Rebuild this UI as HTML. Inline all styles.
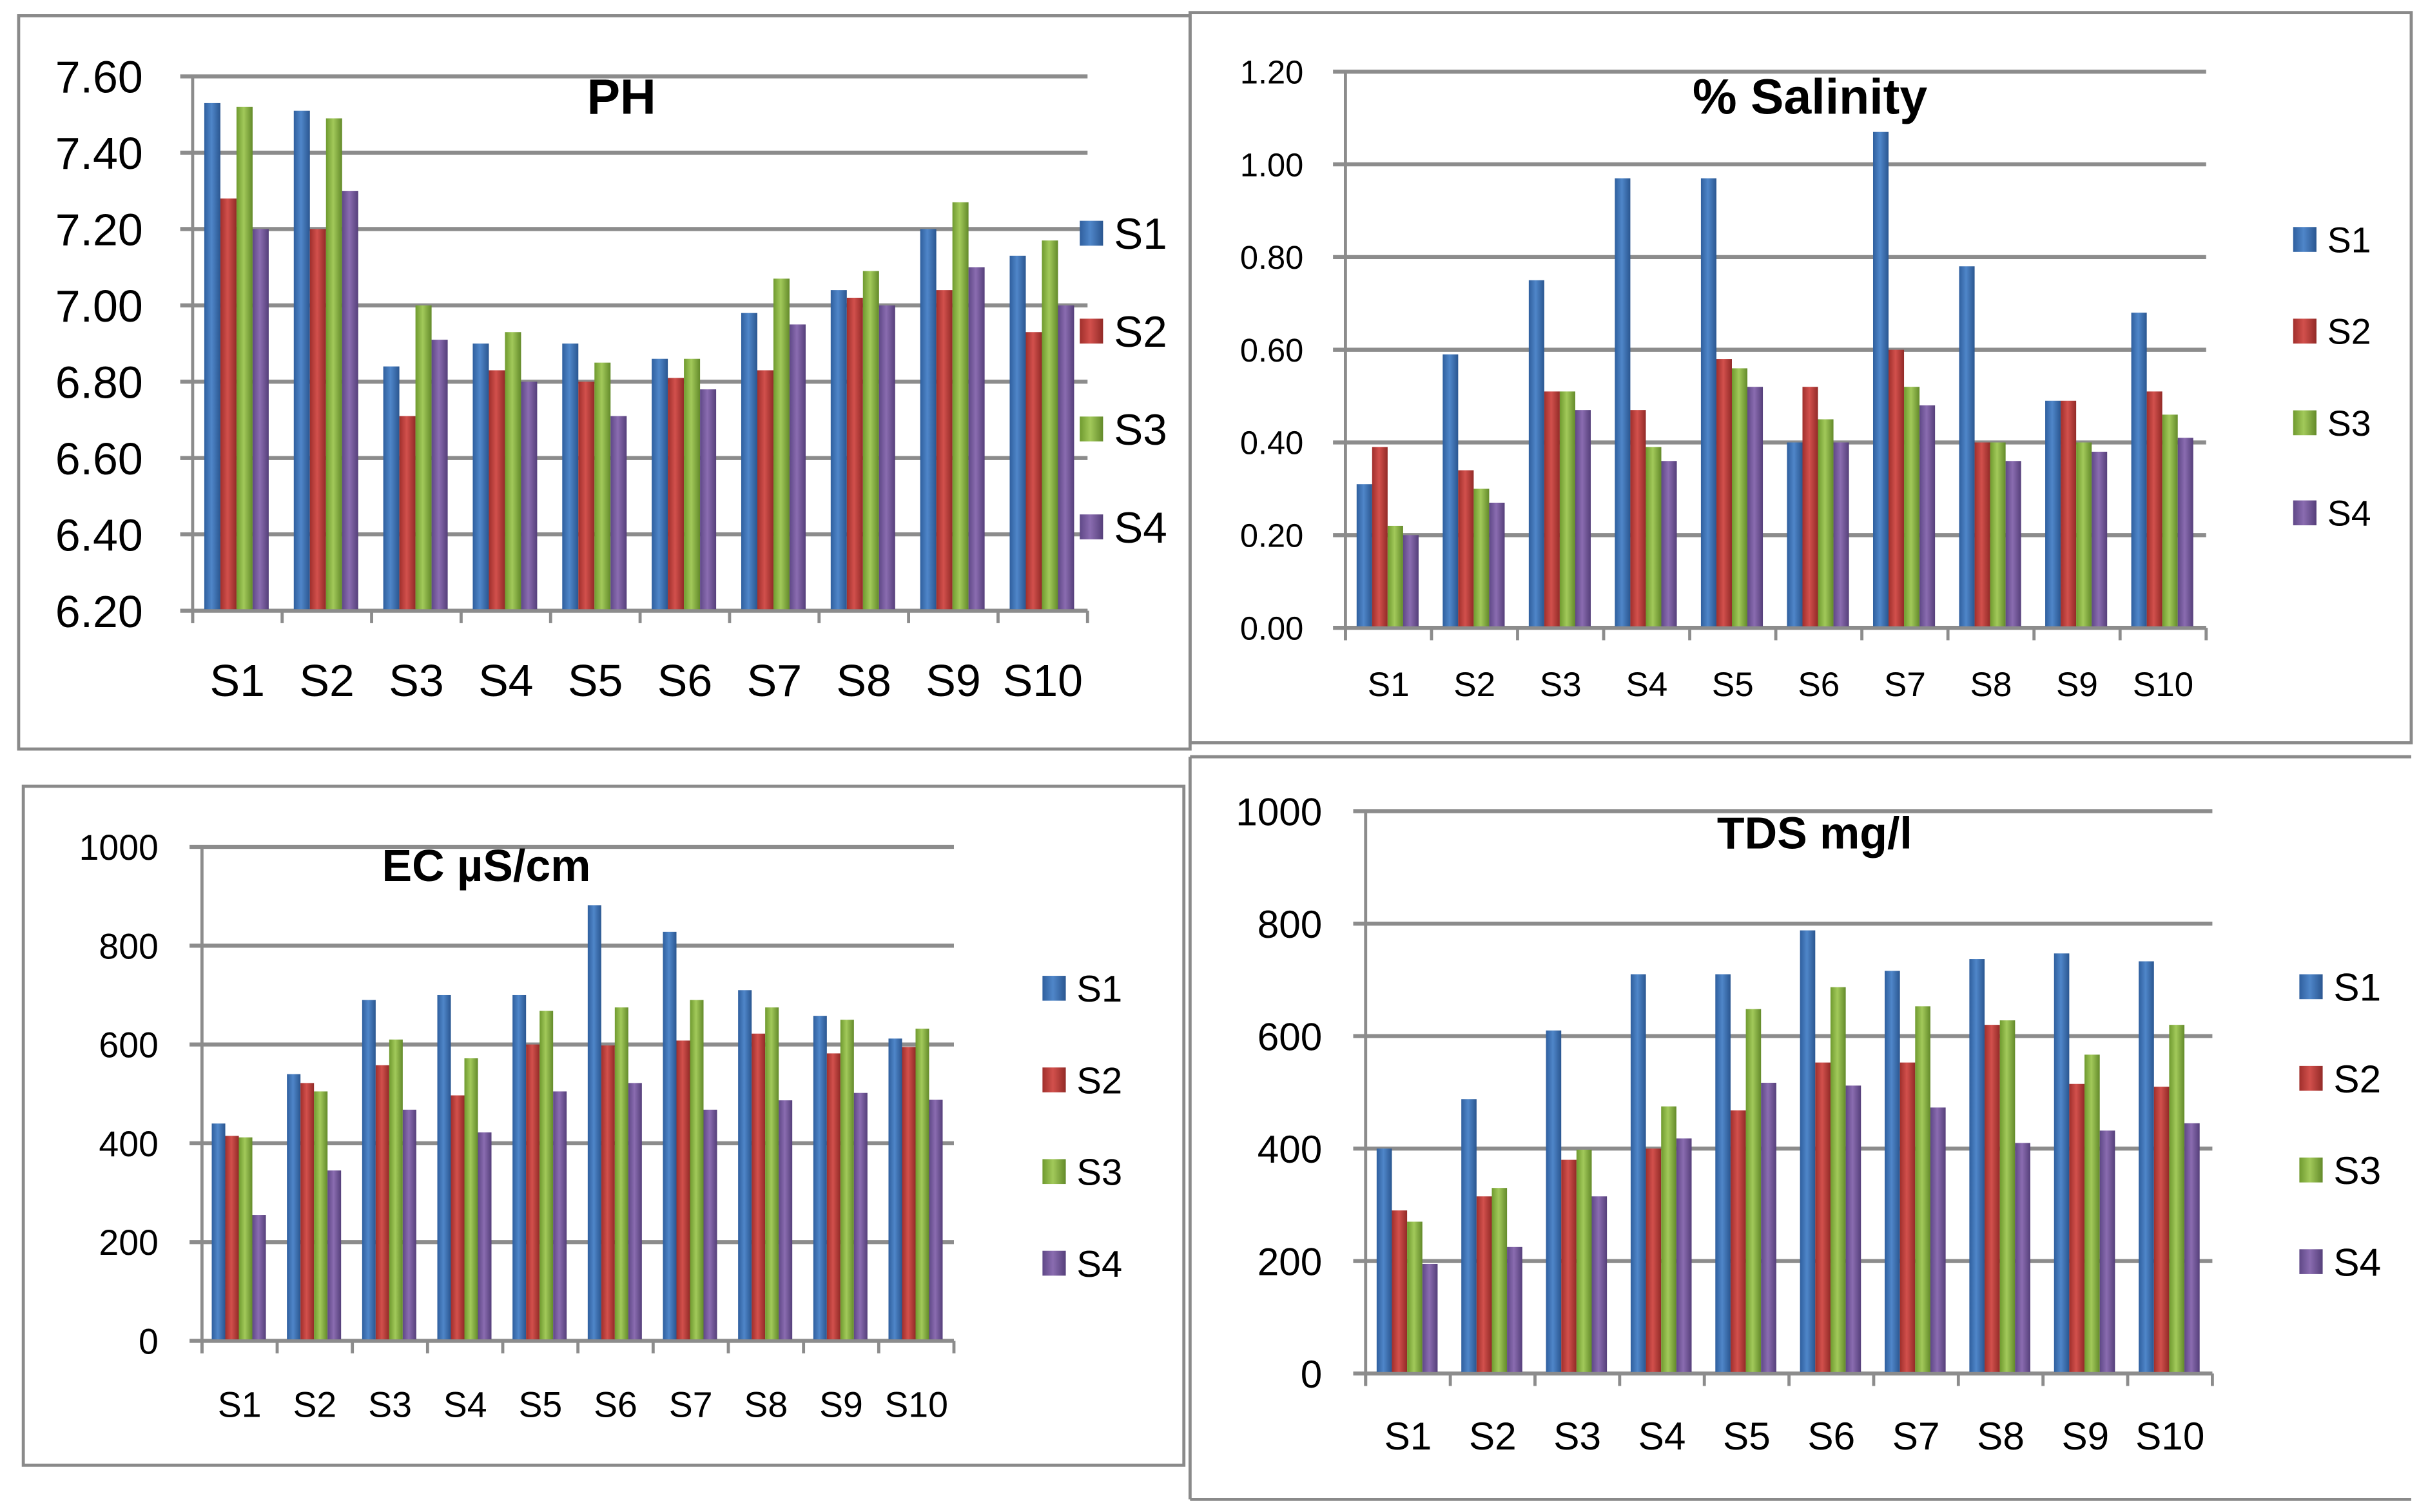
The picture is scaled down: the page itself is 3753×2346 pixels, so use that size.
<!DOCTYPE html>
<html><head><meta charset="utf-8">
<style>
html,body{margin:0;padding:0;background:#fff;}
svg{display:block;}
text{font-family:"Liberation Sans Narrow","Liberation Sans",sans-serif;fill:#000;}
</style></head>
<body>
<svg id="root" width="3753" height="2346" viewBox="0 0 1557 973" xmlns="http://www.w3.org/2000/svg">
<defs>
<linearGradient id="g0" x1="0" x2="1" y1="0" y2="0"><stop offset="0" stop-color="#2f5f9e"/><stop offset="0.45" stop-color="#4f86c9"/><stop offset="1" stop-color="#2a5690"/></linearGradient>
<linearGradient id="g1" x1="0" x2="1" y1="0" y2="0"><stop offset="0" stop-color="#a02f2c"/><stop offset="0.45" stop-color="#d2504c"/><stop offset="1" stop-color="#922a27"/></linearGradient>
<linearGradient id="g2" x1="0" x2="1" y1="0" y2="0"><stop offset="0" stop-color="#6f9a2f"/><stop offset="0.45" stop-color="#a2c95a"/><stop offset="1" stop-color="#638a2a"/></linearGradient>
<linearGradient id="g3" x1="0" x2="1" y1="0" y2="0"><stop offset="0" stop-color="#5f4887"/><stop offset="0.45" stop-color="#8a6cb0"/><stop offset="1" stop-color="#553f7a"/></linearGradient>
</defs>
<rect x="12" y="10" width="754" height="472" fill="none" stroke="#8a8a8a" stroke-width="2"/>
<rect x="766" y="8" width="786" height="470" fill="none" stroke="#8a8a8a" stroke-width="2"/>
<rect x="15" y="506" width="747" height="437" fill="none" stroke="#8a8a8a" stroke-width="2"/>
<path d="M766 487 H1552 M766 487 V965 M766 965 H1552" fill="none" stroke="#8a8a8a" stroke-width="2"/>
</svg>
<script>
const categories = ["S1","S2","S3","S4","S5","S6","S7","S8","S9","S10"];
const seriesNames = ["S1","S2","S3","S4"];
// PH values [S1,S2,S3,S4] per category
const phS1 = [7.53,7.51,6.84,6.90,6.90,6.86,6.98,7.04,7.20,7.13];
const phS2 = [7.28,7.20,6.71,6.83,6.80,6.81,6.83,7.02,7.04,6.93];
const phS3 = [7.52,7.49,7.00,6.93,6.85,6.86,7.07,7.09,7.27,7.17];
const phS4 = [7.20,7.30,6.91,6.80,6.71,6.78,6.95,7.00,7.10,7.00];
const phTicks = ["6.20","6.40","6.60","6.80","7.00","7.20","7.40","7.60"];
const salS1 = [0.31,0.59,0.75,0.97,0.97,0.40,1.07,0.78,0.49,0.68];
const salS2 = [0.39,0.34,0.51,0.47,0.58,0.52,0.60,0.40,0.49,0.51];
const salS3 = [0.22,0.30,0.51,0.39,0.56,0.45,0.52,0.40,0.40,0.46];
const salS4 = [0.20,0.27,0.47,0.36,0.52,0.40,0.48,0.36,0.38,0.41];
const salTicks = ["0.00","0.20","0.40","0.60","0.80","1.00","1.20"];
const ecS1 = [440,540,690,700,700,882,828,710,658,612];
const ecS2 = [415,522,558,497,600,598,608,622,582,595];
const ecS3 = [412,505,610,572,668,675,690,675,650,632];
const ecS4 = [255,345,468,422,505,522,468,487,502,488];
const ecTicks = ["0","200","400","600","800","1000"];
const tdsS1 = [400,488,610,710,710,788,716,737,747,733];
const tdsS2 = [290,315,380,400,468,553,553,620,515,510];
const tdsS3 = [270,330,398,475,648,687,653,628,567,620];
const tdsS4 = [195,225,315,418,517,512,473,410,432,445];
const tdsTicks = ["0","200","400","600","800","1000"];

const NS = "http://www.w3.org/2000/svg";
const root = document.getElementById('root');
function mk(tag, attrs, parent){
  const e = document.createElementNS(NS, tag);
  for (const k in attrs) e.setAttribute(k, attrs[k]);
  (parent||root).appendChild(e);
  return e;
}
function chart(cfg){
  const g = mk('g', {});
  
  
  const min = parseFloat(cfg.ticks[0]), max = parseFloat(cfg.ticks[cfg.ticks.length-1]);
  const yS = v => cfg.y0 + (v - min) / (max - min) * (cfg.y1 - cfg.y0);
  const band = (cfg.x1 - cfg.x0) / categories.length;
  const xS = i => cfg.x0 + i * band;
  // gridlines & tick labels
  cfg.ticks.forEach((t) => {
    const y = yS(parseFloat(t));
    const gl = mk('line', {x1: cfg.x0 - 8, x2: cfg.x1, y1: y, y2: y, stroke: '#8c8c8c', 'stroke-width': 2.6}, g);
    
    
    const tl = mk('text', {x: cfg.labX, y: y + cfg.fs*0.36, 'font-size': cfg.fs, 'text-anchor': 'end'}, g);
    tl.textContent = t;
    
    
  });
  const ax = mk('line', {x1: cfg.x0, x2: cfg.x0, y1: cfg.y1, y2: cfg.y0 + 8, stroke: '#8c8c8c', 'stroke-width': 2}, g);
  
  
  // bars
  const series = cfg.series;
  const bw = band * 0.18, off = band * 0.13;
  categories.forEach((c, i) => {
    series.forEach((arr, s) => {
      const x = xS(i) + off + s * bw;
      const yt = yS(arr[i]);
      const r = mk('rect', {x: x, y: yt, width: bw, height: cfg.y0 - yt, fill: 'url(#g'+s+')'}, g);
      
      
    });
    const tk = mk('line', {x1: xS(i), x2: xS(i), y1: cfg.y0, y2: cfg.y0 + 8, stroke: '#8c8c8c', 'stroke-width': 2}, g);
    
    
    const xl = mk('text', {x: xS(i) + band/2, y: cfg.xLabY, 'font-size': cfg.xfs, 'text-anchor': 'middle'}, g);
    xl.textContent = c;
    
    
  });
  const tk2 = mk('line', {x1: cfg.x1, x2: cfg.x1, y1: cfg.y0, y2: cfg.y0 + 8, stroke: '#8c8c8c', 'stroke-width': 2}, g);
  
  
  const base = mk('line', {x1: cfg.x0, x2: cfg.x1, y1: cfg.y0, y2: cfg.y0, stroke: '#8c8c8c', 'stroke-width': 2}, g);
  
  
  // title
  const ti = mk('text', {x: cfg.tx, y: cfg.ty, 'font-size': cfg.tfs, 'font-weight': 'bold', 'text-anchor': 'middle'}, g);
  ti.textContent = cfg.title;
  
  
  // legend
  seriesNames.forEach((n, s) => {
    const ly = cfg.legY[s];
    const sq = mk('rect', {x: cfg.legX, y: ly - 8, width: 15, height: 16, fill: 'url(#g'+s+')'}, g);
    
    
    const lt = mk('text', {x: cfg.legX + 22, y: ly + cfg.lfs*0.36, 'font-size': cfg.lfs}, g);
    lt.textContent = n;
    
    
  });
}
chart({id:'ph', title:'PH', ticks:phTicks, series:[phS1,phS2,phS3,phS4], x0:124, x1:700, y0:393, y1:49,
  labX:92, fs:29, xfs:29, xLabY:448, tx:400, ty:73, tfs:32, legX:695, legY:[150,213,276,339], lfs:28});
chart({id:'salinity', title:'% Salinity', ticks:salTicks, series:[salS1,salS2,salS3,salS4], x0:866, x1:1420, y0:404, y1:46,
  labX:839, fs:21, xfs:22, xLabY:448, tx:1165, ty:73, tfs:32, legX:1476, legY:[154,213,272,330], lfs:23});
chart({id:'ec', title:'EC \u00b5S/cm', ticks:ecTicks, series:[ecS1,ecS2,ecS3,ecS4], x0:130, x1:614, y0:863, y1:545,
  labX:102, fs:23, xfs:23, xLabY:912, tx:313, ty:567, tfs:29, legX:671, legY:[636,695,754,813], lfs:24});
chart({id:'tds', title:'TDS mg/l', ticks:tdsTicks, series:[tdsS1,tdsS2,tdsS3,tdsS4], x0:879, x1:1424, y0:884, y1:522,
  labX:851, fs:25, xfs:25, xLabY:933, tx:1168, ty:546, tfs:29, legX:1480, legY:[635,694,753,812], lfs:25});
</script>
</body></html>
